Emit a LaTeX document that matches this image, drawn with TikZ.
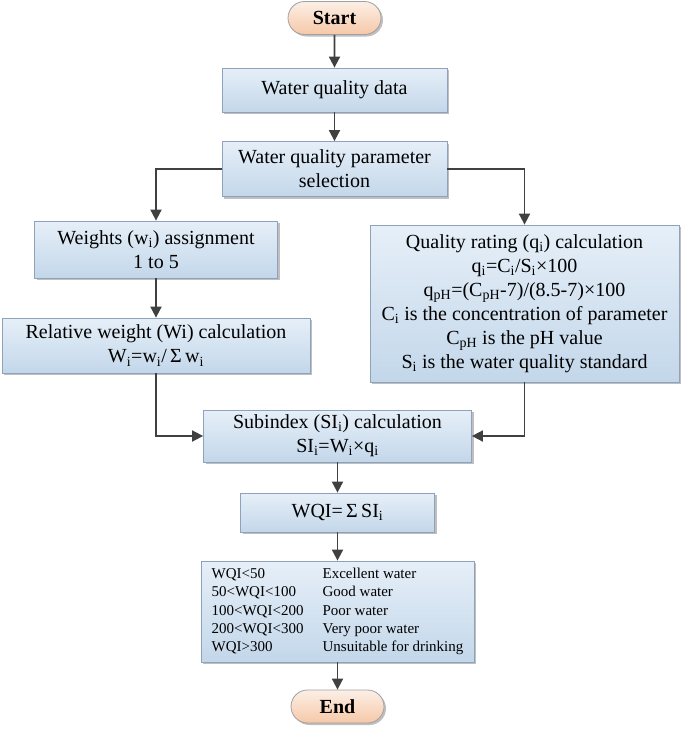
\documentclass[tikz,border=0pt]{standalone}
\usepackage{fontspec}
\setmainfont{Liberation Serif}
\usetikzlibrary{shadows,arrows.meta,shapes.misc}
\definecolor{boxtop}{HTML}{E6EFF8}
\definecolor{boxbot}{HTML}{C3D7EA}
\definecolor{boxline}{HTML}{8EA3BB}
\definecolor{termtop}{HTML}{FCEFE6}
\definecolor{termbot}{HTML}{F6C8A8}
\definecolor{termline}{HTML}{A0A0A0}
\definecolor{arrowc}{HTML}{404040}
\begin{document}
\begin{tikzpicture}[x=1pt,y=-1pt,
  box/.style={draw=boxline, line width=0.8pt, top color=boxtop, bottom color=boxbot,
    align=center, inner sep=0pt, font=\fontsize{20}{24}\selectfont,
    drop shadow={shadow xshift=2pt, shadow yshift=-2pt, fill=black, opacity=0.25}},
  term/.style={rounded rectangle, draw=termline, line width=0.8pt, top color=termtop, bottom color=termbot,
    inner sep=0pt, font=\fontsize{20}{24}\selectfont\bfseries,
    minimum width=93pt, minimum height=33pt,
    drop shadow={shadow xshift=2pt, shadow yshift=-2pt, fill=black, opacity=0.25}},
  arr/.style={draw=arrowc, line width=1.8pt, -{Triangle[length=11pt,width=11pt]}}]
\useasboundingbox (0,0) rectangle (685,732);

\node[term] (start) at (334.5,18) {Start};
\node[box, minimum width=225pt, minimum height=44pt] (data) at (334.5,90) {Water quality data};
\node[box, minimum width=225pt, minimum height=55pt] (sel) at (334.5,169) {Water quality parameter\\selection};
\node[box, minimum width=243pt, minimum height=57pt] (wts) at (156,249.5) {Weights (w\textsubscript{i}) assignment\\1 to 5};
\node[box, minimum width=308pt, minimum height=55pt] (rel) at (156,345.5) {Relative weight (Wi) calculation\\W\textsubscript{i}=w\textsubscript{i}/\,Σ\,w\textsubscript{i}};
\node[box, minimum width=309pt, minimum height=157pt] (qual) at (524.5,303.5) {Quality rating (q\textsubscript{i}) calculation\\
  q\textsubscript{i}=C\textsubscript{i}/S\textsubscript{i}×100\\
  q\textsubscript{pH}=(C\textsubscript{pH}-7)/(8.5-7)×100\\
  C\textsubscript{i} is the concentration of parameter\\
  C\textsubscript{pH} is the pH value\\
  S\textsubscript{i} is the water quality standard};
\node[box, minimum width=268pt, minimum height=52pt] (sub) at (337.5,436) {Subindex (SI\textsubscript{i}) calculation\\SI\textsubscript{i}=W\textsubscript{i}×q\textsubscript{i}};
\node[box, minimum width=194pt, minimum height=39pt] (wqi) at (337.5,512.5) {WQI=\,Σ\,SI\textsubscript{i}};
\node[box, minimum width=273pt, minimum height=101pt, font=\fontsize{15}{18.3}\selectfont] (range) at (337.5,611.5) {%
  \begin{tabular}{@{}p{111pt}@{}l@{}}
  WQI<50 & Excellent water\\
  50<WQI<100 & Good water\\
  100<WQI<200 & Poor water\\
  200<WQI<300 & Very poor water\\
  WQI>300 & Unsuitable for drinking
  \end{tabular}};
\node[term] (endn) at (337.5,706.5) {End};

\draw[arr] (start) -- (data);
\draw[arr] (data) -- (sel);
\draw[arr] (sel.west) -| (wts.north);
\draw[arr] (sel.east) -| (qual.north);
\draw[arr] (wts) -- (rel);
\draw[arr] (rel.south) |- (sub.west);
\draw[arr] (qual.south) |- (sub.east);
\draw[arr] (sub) -- (wqi);
\draw[arr] (wqi) -- (range);
\draw[arr] (range) -- (endn);
\end{tikzpicture}
\end{document}
